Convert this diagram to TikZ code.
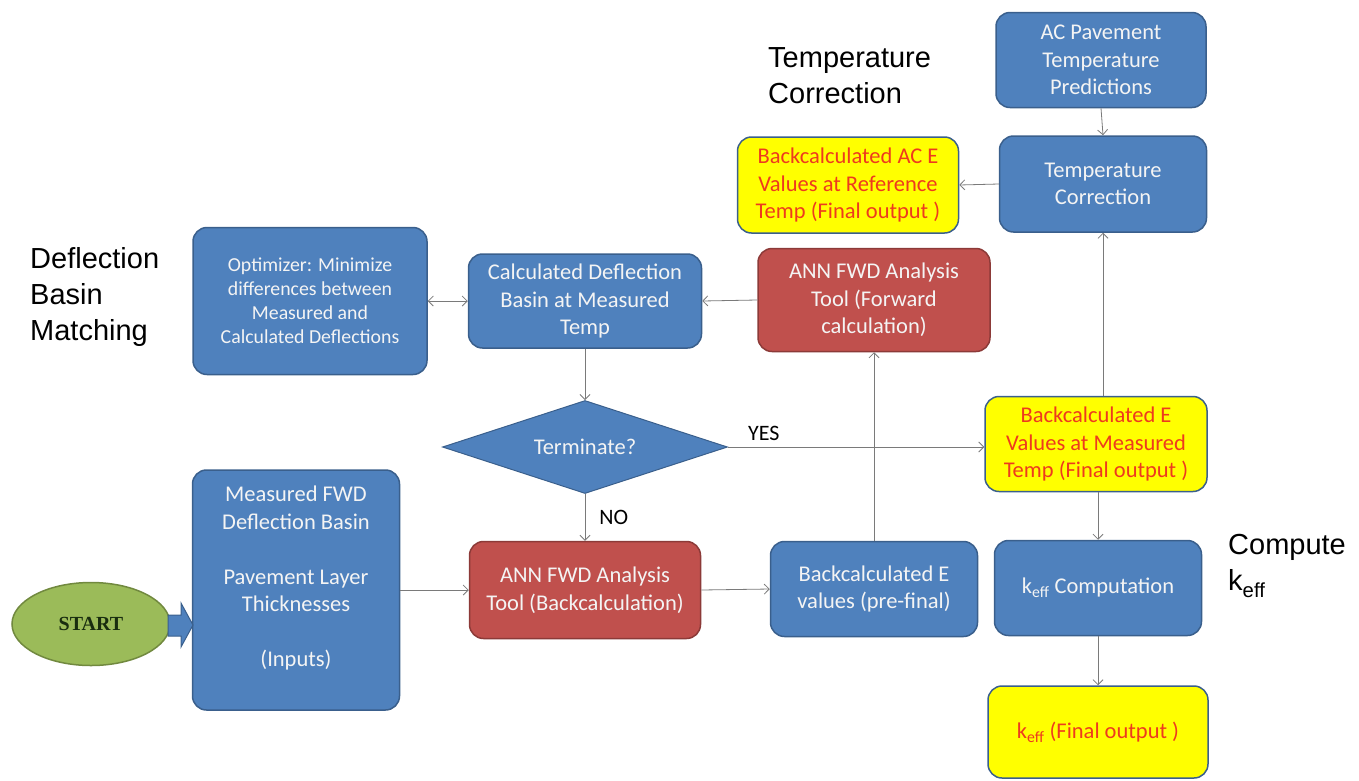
\documentclass[tikz,border=0pt]{standalone}
\usepackage{fontspec}
\setmainfont{Carlito}
\newfontfamily\arialf{Liberation Sans}
\newfontfamily\timesf{Liberation Serif}
\usetikzlibrary{shapes.geometric,arrows.meta}
\definecolor{blueF}{HTML}{4F81BD}
\definecolor{blueD}{HTML}{3A5F8C}
\definecolor{redF}{HTML}{C0504D}
\definecolor{redD}{HTML}{8C3A38}
\definecolor{yelF}{HTML}{FFFF00}
\definecolor{greenF}{HTML}{9BBB59}
\definecolor{greenD}{HTML}{71893F}
\definecolor{txtred}{HTML}{EE3A1E}
\definecolor{txtw}{HTML}{F4F4F4}
\definecolor{lineg}{HTML}{7A7A7A}
\begin{document}
\begin{tikzpicture}[x=1pt,y=-1pt,
  bx/.style={rounded corners=14pt, line width=1.5pt, align=center, inner sep=0pt,
    font=\fontsize{22.5}{27.5}\selectfont},
  bluebox/.style={bx, draw=blueD, fill=blueF, text=txtw},
  redbox/.style={bx, draw=redD, fill=redF, text=txtw},
  yelbox/.style={bx, draw=blueD, fill=yelF, text=txtred},
  lbl/.style={font=\arialf\fontsize{29}{36}\selectfont, align=left, inner sep=0pt, text=black},
  small/.style={font=\fontsize{22}{26}\selectfont, text=black, inner sep=0pt},
  arr/.style={draw=lineg, line width=0.8pt, -{Straight Barb[length=5pt,width=10pt]}},
  darr/.style={draw=lineg, line width=0.8pt, {Straight Barb[length=5pt,width=10pt]}-{Straight Barb[length=5pt,width=10pt]}}
]
\useasboundingbox (0,0) rectangle (1359,780);

% labels
\node[lbl, anchor=west] (lt) at (768,76) {Temperature\\Correction};
\node[lbl, anchor=west] (ld) at (30,297) {Deflection\\Basin\\Matching};
\node[lbl, anchor=west] (lk) at (1228,566) {Compute\\k\textsubscript{eff}};

% top right
\node[bluebox, minimum width=210pt, minimum height=95pt] (acp) at (1101,60) {AC Pavement\\Temperature\\Predictions};
\node[bluebox, minimum width=207pt, minimum height=96pt] (tc) at (1103,184) {Temperature\\Correction};
\node[yelbox, minimum width=221pt, minimum height=96pt] (ye1) at (848,185) {Backcalculated AC E\\Values at Reference\\Temp (Final output )};

% middle row
\node[bluebox, minimum width=234pt, minimum height=147pt, font=\fontsize{19.8}{24}\selectfont] (opt) at (310,301) {Optimizer: Minimize\\differences between\\Measured and\\Calculated Deflections};
\node[bluebox, minimum width=233pt, minimum height=94pt] (cdb) at (585,301) {Calculated Deflection\\Basin at Measured\\Temp};
\node[redbox, minimum width=232pt, minimum height=103pt] (fwd) at (874,300) {ANN FWD Analysis\\Tool (Forward\\calculation)};

% decision
\node[diamond, draw=blueD, fill=blueF, line width=1pt, text=txtw, inner sep=0pt, aspect=3.06,
  minimum width=285pt, minimum height=93pt, font=\fontsize{22.5}{27}\selectfont] (term) at (585,447) {Terminate?};
\node[yelbox, minimum width=222pt, minimum height=95pt] (ye2) at (1096,444) {Backcalculated E\\Values at Measured\\Temp (Final output )};

% bottom row
\node[ellipse, draw=greenD, fill=greenF, line width=1.5pt, minimum width=158pt, minimum height=83pt,
  inner sep=0pt, text={rgb,255:red,25;green,45;blue,15}, font=\timesf\bfseries\fontsize{20}{24}\selectfont] (start) at (91,624) {START};
\node[bluebox, minimum width=207pt, minimum height=240pt] (meas) at (296,590) {\begin{tabular}{@{}c@{}}Measured FWD\\Deflection Basin\\[27.5pt]Pavement Layer\\Thicknesses\\[27.5pt](Inputs)\\[23pt]\end{tabular}};
\node[redbox, minimum width=231pt, minimum height=97pt] (annb) at (585,590) {ANN FWD Analysis\\Tool (Backcalculation)};
\node[bluebox, minimum width=207pt, minimum height=95pt] (bpf) at (874,589) {Backcalculated E\\values (pre-final)};
\node[bluebox, minimum width=207pt, minimum height=95pt] (kc) at (1098,588) {k\textsubscript{eff} Computation};
\node[yelbox, minimum width=220pt, minimum height=92pt] (kf) at (1098,732) {k\textsubscript{eff} (Final output )};

% block arrow START -> inputs
\fill[blueF, draw=blueD, line width=1pt] (168,615) -- (181,615) -- (181,603) -- (193,625) -- (181,647) -- (181,636) -- (168,636) -- cycle;

% connectors
\draw[arr] (acp.south) -- (tc.north);
\draw[arr] (tc.west) -- (ye1.east);
\draw[arr] (ye2.north -| tc.south) -- (tc.south);
\draw[darr] (opt.east) -- (cdb.west);
\draw[arr] (fwd.west) -- (cdb.east);
\draw[arr] (cdb.south) -- (term.north);
\draw[arr] (term.east) -- node[pos=0.14, above=6pt, small] (yes) {YES} (term.east -| ye2.west);
\draw[arr] (term.south) -- node[pos=0.5, right=14pt, small] (no) {NO} (annb.north);
\draw[arr] (meas.east |- annb.west) -- (annb.west);
\draw[arr] (annb.east) -- (bpf.west);
\draw[arr] (bpf.north) -- (fwd.south);
\draw[arr] (ye2.south -| kc.north) -- (kc.north);
\draw[arr] (kc.south) -- (kf.north);
\end{tikzpicture}
\end{document}
